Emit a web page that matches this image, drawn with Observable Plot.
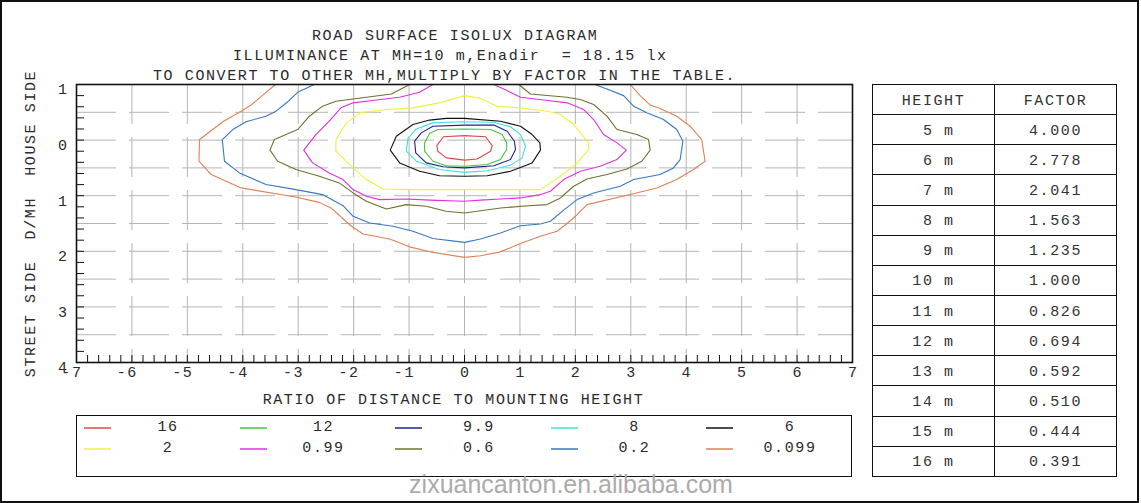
<!DOCTYPE html>
<html><head><meta charset="utf-8">
<script src="https://cdn.jsdelivr.net/npm/d3@7"></script>
<script src="https://cdn.jsdelivr.net/npm/@observablehq/plot@0.6"></script>
<style>
html,body{margin:0;padding:0;background:#fff;}
#root{position:relative;width:1141px;height:503px;overflow:hidden;font-family:"Liberation Mono","DejaVu Sans Mono",monospace;color:#2a2a2a;}
.mono{font-size:15px;letter-spacing:1.6px;white-space:pre;line-height:20px;}
.abs{position:absolute;}
#frame{position:absolute;left:0;top:0;width:1139px;height:503px;box-sizing:border-box;border:2px solid #111;}
#tbl{position:absolute;left:872px;top:84px;width:245px;height:393px;border-collapse:collapse;table-layout:fixed;}
#tbl td{border:1px solid #111;text-align:center;padding:3px 0 0 0;font-size:15px;letter-spacing:1.6px;white-space:pre;color:#333;}
#legend{position:absolute;left:76px;top:415px;width:776px;height:62px;box-sizing:border-box;border:1px solid #111;}
#wm{position:absolute;left:571px;top:472px;transform:translateX(-50%);font-family:"Liberation Sans",Arial,sans-serif;font-size:25px;line-height:25px;color:#ababab;white-space:nowrap;}
</style></head><body><div id="root"></div>
<script>
// ---------- data ----------
const titleLines = ["ROAD SURFACE ISOLUX DIAGRAM", "ILLUMINANCE AT MH=10 m,Enadir  = 18.15 lx", "TO CONVERT TO OTHER MH,MULTIPLY BY FACTOR IN THE TABLE."];
const xAxisTitle = "RATIO OF DISTANCE TO MOUNTING HEIGHT";
const yAxisTitle = "STREET SIDE  D/MH  HOUSE SIDE";
const xTicks = [-7, -6, -5, -4, -3, -2, -1, 0, 1, 2, 3, 4, 5, 6, 7];
const yTicks = [-1, 0, 1, 2, 3, 4];
const xGrid = [-6, -5, -4, -3, -2, -1, 0, 1, 2, 3, 4, 5, 6];
const yGrid = [-0.5, 0, 0.5, 1, 1.5, 2, 2.5, 3, 3.5];

const levels = ["16", "12", "9.9", "8", "6", "2", "0.99", "0.6", "0.2", "0.099"];
const levelColors = ["#e04848", "#40c840", "#202090", "#40e0e0", "#111111", "#f0f040", "#e030e0", "#707030", "#3878c0", "#e08058"];

const iso16 = [[0,-0.08],[-0.38,-0.06],[-0.50,0.10],[-0.48,0.20],[-0.33,0.32],[0,0.36],[0.23,0.34],[0.47,0.20],[0.50,0.10],[0.38,-0.06],[0,-0.08]];
const iso12 = [[0,-0.20],[-0.48,-0.19],[-0.63,-0.12],[-0.72,0.05],[-0.72,0.20],[-0.57,0.38],[-0.33,0.46],[0,0.47],[0.41,0.44],[0.65,0.35],[0.76,0.17],[0.76,0.05],[0.68,-0.10],[0.47,-0.19],[0,-0.20]];
const iso99 = [[0,-0.27],[-0.57,-0.25],[-0.78,-0.13],[-0.90,0.02],[-0.88,0.23],[-0.69,0.41],[-0.39,0.48],[0,0.50],[0.53,0.46],[0.83,0.35],[0.92,0.17],[0.90,0.02],[0.77,-0.16],[0.53,-0.27],[0,-0.27]];
const iso8 = [[0,-0.33],[-0.57,-0.31],[-0.87,-0.20],[-1.02,-0.03],[-1.05,0.20],[-0.87,0.38],[-0.45,0.53],[0,0.58],[0.41,0.55],[0.83,0.45],[1.04,0.32],[1.10,0.11],[1.01,-0.10],[0.83,-0.24],[0.53,-0.32],[0,-0.33]];
const iso6 = [[0,-0.39],[-0.33,-0.39],[-0.63,-0.36],[-0.93,-0.28],[-1.23,-0.07],[-1.34,0.18],[-1.17,0.41],[-0.81,0.56],[-0.45,0.64],[0,0.65],[0.41,0.64],[0.83,0.56],[1.22,0.41],[1.37,0.18],[1.36,0.05],[1.22,-0.10],[1.01,-0.25],[0.65,-0.34],[0,-0.39]];
const iso2 = [[0,-0.80],[-0.45,-0.67],[-0.93,-0.58],[-1.41,-0.55],[-1.89,-0.49],[-2.13,-0.31],[-2.32,-0.01],[-2.32,0.20],[-2.01,0.50],[-1.77,0.71],[-1.47,0.88],[-0.93,0.89],[0,0.89],[0.65,0.89],[1.37,0.89],[1.73,0.65],[2.03,0.41],[2.24,0.17],[2.24,0.05],[1.97,-0.28],[1.73,-0.46],[1.49,-0.52],[1.01,-0.58],[0.59,-0.61],[0.29,-0.75],[0,-0.80]];
const iso099 = [[-0.57,-1.0],[-0.81,-0.86],[-1.17,-0.77],[-1.59,-0.72],[-2.01,-0.67],[-2.23,-0.58],[-2.44,-0.34],[-2.68,-0.10],[-2.90,0.18],[-2.74,0.41],[-2.44,0.59],[-2.19,0.71],[-2.01,0.89],[-1.77,1.01],[-1.53,1.07],[-1.05,1.06],[-0.63,1.08],[0,1.10],[0.29,1.08],[0.65,1.06],[1.01,1.04],[1.37,0.98],[1.55,0.92],[1.79,0.71],[2.09,0.56],[2.45,0.47],[2.75,0.35],[2.92,0.18],[2.75,0.05],[2.51,-0.10],[2.33,-0.37],[2.15,-0.55],[1.85,-0.67],[1.43,-0.72],[1.01,-0.77],[0.71,-0.92],[0.53,-1.0]];
const iso06 = [[-0.99,-1.0],[-1.32,-0.83],[-1.77,-0.77],[-2.32,-0.70],[-2.56,-0.61],[-2.80,-0.43],[-3.01,-0.19],[-3.43,-0.01],[-3.51,0.18],[-3.37,0.38],[-3.04,0.53],[-2.62,0.65],[-2.26,0.77],[-2.01,0.95],[-1.77,1.10],[-1.41,1.24],[-1.05,1.16],[-0.69,1.19],[-0.33,1.28],[0,1.31],[0.29,1.27],[0.65,1.22],[1.16,1.18],[1.49,1.16],[1.73,1.04],[1.97,0.83],[2.21,0.70],[2.57,0.62],[2.93,0.52],[3.20,0.38],[3.35,0.18],[3.32,-0.01],[3.11,-0.10],[2.75,-0.19],[2.57,-0.43],[2.33,-0.64],[2.09,-0.73],[1.85,-0.77],[1.19,-0.83],[0.98,-1.0]];
const iso02 = [[-2.71,-1.0],[-3.01,-0.86],[-3.20,-0.68],[-3.40,-0.52],[-3.58,-0.43],[-3.94,-0.33],[-4.18,-0.19],[-4.37,-0.01],[-4.33,0.38],[-4.06,0.59],[-3.58,0.80],[-3.04,0.89],[-2.56,0.98],[-2.19,1.18],[-2.01,1.37],[-1.71,1.49],[-1.29,1.55],[-0.93,1.64],[-0.57,1.77],[0,1.84],[0.29,1.78],[0.65,1.67],[1.01,1.54],[1.37,1.51],[1.55,1.46],[1.80,1.25],[2.03,1.07],[2.33,0.95],[2.81,0.83],[3.05,0.71],[3.53,0.62],[3.77,0.50],[3.89,0.35],[3.94,0.02],[3.83,-0.19],[3.59,-0.37],[3.29,-0.49],[3.05,-0.61],[2.87,-0.80],[2.57,-0.92],[2.35,-1.0]];
const iso0099 = [[-3.41,-1.0],[-3.85,-0.63],[-4.03,-0.52],[-4.36,-0.33],[-4.78,-0.01],[-4.79,0.38],[-4.57,0.62],[-4.03,0.86],[-3.07,1.02],[-2.62,1.12],[-2.41,1.22],[-2.04,1.55],[-1.83,1.69],[-1.35,1.78],[-0.99,1.92],[-0.57,2.02],[0,2.11],[0.29,2.08],[0.65,2.01],[1.01,1.86],[1.37,1.73],[1.67,1.64],[1.85,1.50],[2.00,1.37],[2.21,1.16],[2.99,0.98],[3.47,0.86],[3.83,0.71],[4.13,0.53],[4.34,0.38],[4.28,-0.01],[4.07,-0.25],[3.83,-0.43],[3.53,-0.57],[3.35,-0.63],[3.17,-0.80],[2.99,-1.0]];
const contours = [iso0099, iso02, iso06, iso099, iso2, iso6, iso8, iso99, iso12, iso16];
const contourLevels = ["0.099", "0.2", "0.6", "0.99", "2", "6", "8", "9.9", "12", "16"];

const tableHeader = ["HEIGHT", "FACTOR"];
const heights = ["5 m", "6 m", "7 m", "8 m", "9 m", "10 m", "11 m", "12 m", "13 m", "14 m", "15 m", "16 m"];
const factors = ["4.000", "2.778", "2.041", "1.563", "1.235", "1.000", "0.826", "0.694", "0.592", "0.510", "0.444", "0.391"];
const watermark = "zixuancanton.en.alibaba.com";

// ---------- build ----------
const root = document.getElementById("root");
const nb = s => s.replace(/ /g, "\u00a0");
const colorOf = d3.scaleOrdinal(levels, levelColors);
const MONO = "'Liberation Mono','DejaVu Sans Mono',monospace";

const xMinor = d3.range(-7, 7.0001, 0.2);
const yMinor = d3.range(-1, 4.0001, 0.2);
const W = 870, H = 420, ML = 76, MR = 18, MT = 84, MB = 58;
const plotW = W - ML - MR, plotH = H - MT - MB;

const marks = [
  Plot.ruleX(xGrid, {x: d => d, stroke: "#b4b4b4", strokeWidth: 1, strokeDasharray: "40,13"}),
  Plot.ruleY(yGrid, {y: d => d, stroke: "#b4b4b4", strokeWidth: 1, strokeDasharray: "40,13"}),
];
contours.forEach((pts, i) => {
  marks.push(Plot.line(pts, {x: d => d[0], y: d => d[1], stroke: colorOf(contourLevels[i]), strokeWidth: 1.1, clip: true}));
});
marks.push(
  Plot.tickY(yMinor, {y: d => d, insetRight: plotW - 8, stroke: "#111", strokeWidth: 1}),
  Plot.tickX(xMinor, {x: d => d, insetTop: plotH - 7, stroke: "#111", strokeWidth: 1}),
  Plot.frame({stroke: "#111", strokeWidth: 1.6}),
  Plot.axisX(xTicks, {anchor: "bottom", tickSize: 0, tickPadding: 4, textAnchor: "end", dx: 6, tickFormat: d => String(d), label: null}),
  Plot.axisY(yTicks, {anchor: "left", tickSize: 0, tickPadding: 8, dy: 5, tickFormat: d => String(Math.abs(d)), label: null}),
  Plot.text([nb(xAxisTitle)], {frameAnchor: "bottom", dy: 41, dx: -11}),
  Plot.text([nb(yAxisTitle)], {frameAnchor: "left", textAnchor: "middle", dx: -46, rotate: -90})
);

const chart = Plot.plot({
  width: W, height: H,
  marginLeft: ML, marginRight: MR, marginTop: MT, marginBottom: MB,
  x: {domain: [-7, 7]},
  y: {domain: [-1, 4], reverse: true},
  style: {fontFamily: MONO, fontSize: "15px", letterSpacing: "1.6px", background: "transparent", color: "#2a2a2a", overflow: "visible"},
  marks
});
chart.style.position = "absolute";
chart.style.left = "0px";
chart.style.top = "0px";
root.appendChild(chart);

// titles
const titleLeft = [312, 233, 153];
titleLines.forEach((t, i) => {
  const d = document.createElement("div");
  d.className = "abs mono";
  d.style.left = titleLeft[i] + "px";
  d.style.top = (27 + 20 * i) + "px";
  d.textContent = t;
  root.appendChild(d);
});

// legend
const leg = document.createElement("div");
leg.id = "legend";
root.appendChild(leg);
levels.forEach((lv, i) => {
  const r = Math.floor(i / 5), c = i % 5;
  const cy = 426 + 21 * r - 415;
  const ln = document.createElement("div");
  ln.className = "abs";
  ln.style.cssText = `left:${Math.round(84 + 155.5 * c - 77)}px;top:${cy}px;width:27px;height:1.5px;background:${colorOf(lv)};opacity:0.75`;
  leg.appendChild(ln);
  const tx = document.createElement("div");
  tx.className = "abs mono";
  tx.style.cssText = `left:${168 + 155.5 * c - 77 - 60}px;top:${cy - 9}px;width:120px;text-align:center;`;
  tx.textContent = lv;
  leg.appendChild(tx);
});

// table
const tbl = document.createElement("table");
tbl.id = "tbl";
const addRow = (a, b) => {
  const tr = document.createElement("tr");
  [a, b].forEach(v => { const td = document.createElement("td"); td.textContent = v; tr.appendChild(td); });
  tbl.appendChild(tr);
};
addRow(tableHeader[0], tableHeader[1]);
heights.forEach((h, i) => addRow(nb(h.padStart(4, " ")), factors[i]));
root.appendChild(tbl);

// watermark
const wm = document.createElement("div");
wm.id = "wm";
wm.textContent = watermark;
root.appendChild(wm);

// outer frame
const fr = document.createElement("div");
fr.id = "frame";
root.appendChild(fr);
</script></body></html>
